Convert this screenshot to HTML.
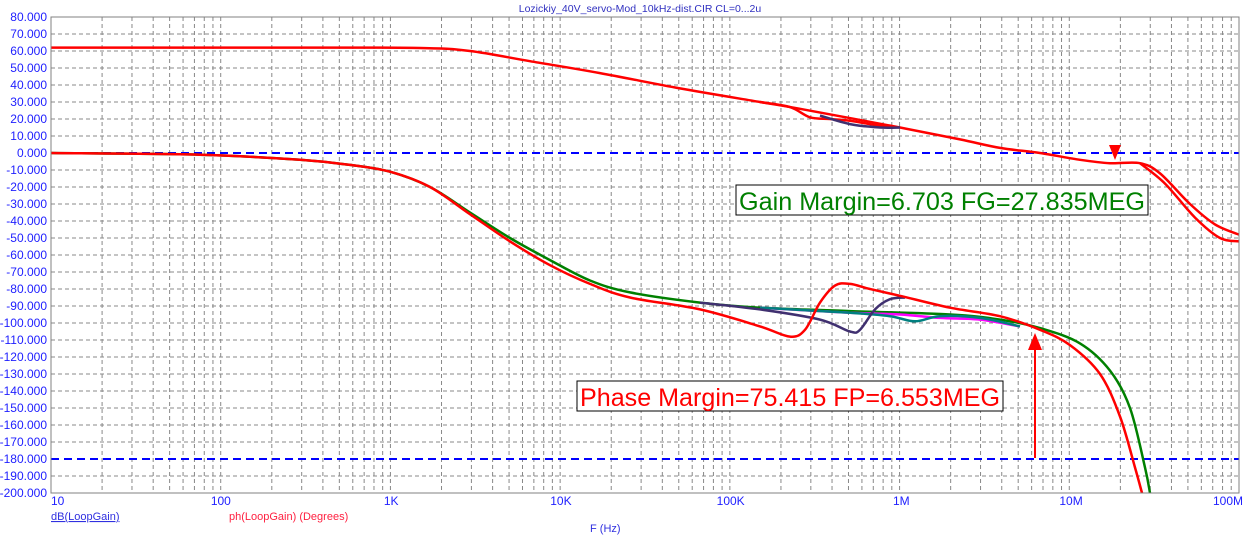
<!DOCTYPE html>
<html><head><meta charset="utf-8"><style>
html,body{margin:0;padding:0;background:#fff;}
svg{display:block;font-family:"Liberation Sans",sans-serif;}
</style></head><body>
<svg id="s" width="1259" height="542" xmlns="http://www.w3.org/2000/svg">
<text x="640" y="12" font-size="10.5" fill="#3030c0" text-anchor="middle">Lozickiy_40V_servo-Mod_10kHz-dist.CIR CL=0...2u</text>
<g id="grid"></g>
<g id="curves" fill="none" stroke-width="2.5" stroke-linejoin="round"></g>
<rect x="51" y="17" width="1188" height="476" fill="none" stroke="#808080" stroke-width="1"/>
<rect x="736" y="185" width="412" height="30" fill="#fff" stroke="#000" stroke-width="1"/>
<text x="739" y="210" font-size="25" fill="#008000" textLength="406" lengthAdjust="spacingAndGlyphs">Gain Margin=6.703 FG=27.835MEG</text>
<rect x="577" y="381" width="426" height="30" fill="#fff" stroke="#000" stroke-width="1"/>
<text x="580" y="406" font-size="25" fill="#ff0000" textLength="420" lengthAdjust="spacingAndGlyphs">Phase Margin=75.415 FP=6.553MEG</text>
<line x1="1035" y1="458" x2="1035" y2="345" stroke="#f00" stroke-width="2"/>
<polygon points="1028,350 1042,350 1035,333" fill="#f00"/>
<polygon points="1109,145 1121,145 1115,160" fill="#f00"/>
<text x="51" y="520" font-size="11" fill="#3030e0" text-decoration="underline">dB(LoopGain)</text>
<text x="229" y="520" font-size="11" fill="#ff2040">ph(LoopGain) (Degrees)</text>
<text x="590" y="532" font-size="11" fill="#3030e0">F (Hz)</text>
</svg>
<script>
const s=document.getElementById('grid'),NS="http://www.w3.org/2000/svg";
const L=51,R=1239,T=17,B=493,D=(R-L)/7;
const X=f=>L+(Math.log10(f)-1)*D, Y=v=>T+(80-v)*1.7;
function el(t,a,txt){const e=document.createElementNS(NS,t);for(const k in a)e.setAttribute(k,a[k]);if(txt)e.textContent=txt;return e;}
for(let d=1;d<8;d++)for(let m=1;m<10;m++){if(d==1&&m==1)continue;const x=X(m*Math.pow(10,d));if(x>R)continue;
s.appendChild(el('line',{x1:x,x2:x,y1:T,y2:B,stroke:'#888','stroke-dasharray':'4 3','stroke-width':1}));}
for(let v=80;v>=-200;v-=10){const y=Y(v);
if(v==0||v==-180)s.appendChild(el('line',{x1:L,x2:R,y1:y,y2:y,stroke:'#0000ff','stroke-dasharray':'8 5','stroke-width':2}));
else s.appendChild(el('line',{x1:L,x2:R,y1:y,y2:y,stroke:'#888','stroke-dasharray':'4 3','stroke-width':1}));
s.appendChild(el('text',{x:47,y:y+4,'font-size':12,fill:'#2020ff','text-anchor':'end'},v.toFixed(3)));}
const lb=['10','100','1K','10K','100K','1M','10M','100M'];
lb.forEach((t,i)=>{const x=L+i*D;s.appendChild(el('text',{x:i==0?x:(i==7?x-26:x-t.length*3.3),y:505,'font-size':12,fill:'#2020ff'},t));});
const c=document.getElementById('curves');
function P(pts,col){const q=pts.map(p=>[p[0],Y(p[1])]);let d='M'+q[0][0]+','+q[0][1];
for(let i=0;i<q.length-1;i++){const p0=q[i-1]||q[i],p1=q[i],p2=q[i+1],p3=q[i+2]||p2;
const c1=[p1[0]+(p2[0]-p0[0])/6,p1[1]+(p2[1]-p0[1])/6],c2=[p2[0]-(p3[0]-p1[0])/6,p2[1]-(p3[1]-p1[1])/6];
d+=' C'+c1+' '+c2+' '+p2;}
c.appendChild(el('path',{d:d,stroke:col}));}
P([[51,62],[300,62],[420,61.8],[470,60],[530,54],[600,47],[680,38],[760,30],[800,26],[900,15],[960,8],[1000,3],[1040,0],[1080,-4],[1110,-6],[1140,-6],[1160,-12],[1190,-30],[1215,-42],[1239,-48]],'#f00');
P([[760,30],[790,27],[810,21],[830,20],[850,19],[880,16],[900,15]],'#f00');
P([[820,22],[850,17],[880,15],[900,15]],'#403070');
P([[1140,-6],[1165,-18],[1195,-38],[1220,-50],[1239,-52]],'#f00');
const base=[[51,0],[200,-1],[300,-4],[350,-7],[390,-11],[430,-20],[470,-35],[510,-50],[550,-63],[590,-75],[630,-82],[700,-88],[760,-91]];
P(base.concat([[850,-93],[950,-95],[1000,-98],[1040,-103],[1080,-112],[1110,-128],[1130,-150],[1145,-185],[1150,-200]]),'#008000');
P([[760,-91],[850,-94],[900,-95],[940,-97],[980,-98],[1020,-102]],'#ff00ff');
P([[760,-91],[850,-94],[890,-96],[915,-99],[940,-96],[980,-97],[1020,-102]],'#008080');
P([[700,-88],[760,-92],[820,-98],[850,-105],[860,-104],[875,-92],[890,-86],[905,-85]],'#403070');
P([[51,0],[200,-1],[300,-4],[350,-7],[390,-11],[430,-20],[470,-36],[510,-52],[550,-66],[590,-77],[630,-85],[700,-92],[760,-102],[790,-108],[805,-104],[820,-88],[835,-78],[850,-77],[870,-80],[900,-84],[950,-91],[1000,-96],[1040,-104],[1070,-113],[1100,-130],[1120,-155],[1135,-185],[1142,-200]],'#f00');
</script>
</body></html>
